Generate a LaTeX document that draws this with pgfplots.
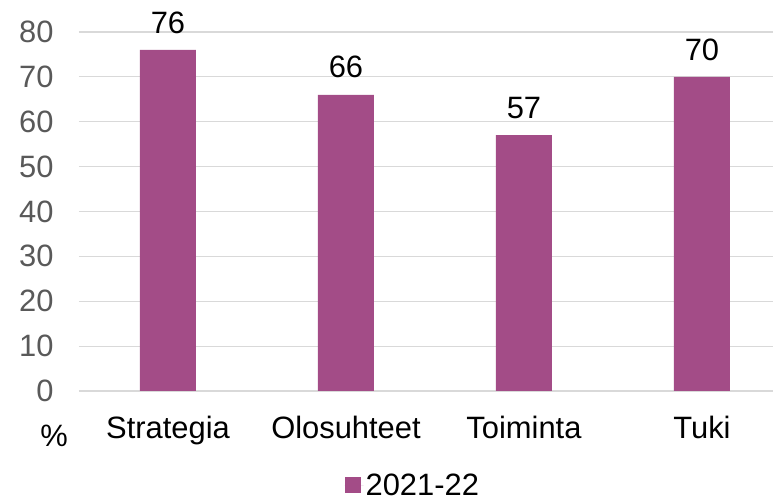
\documentclass[border=0pt]{standalone}
\usepackage{fontspec}
\setmainfont{Liberation Sans}
\usepackage{pgfplots}
\pgfplotsset{compat=1.18}
\definecolor{barc}{HTML}{A34C87}
\definecolor{gridc}{HTML}{D9D9D9}
\definecolor{tickc}{HTML}{595959}
\begin{document}
\begin{tikzpicture}
\begin{axis}[
  name=ax,
  scale only axis,
  width=694bp, height=359bp,
  ymin=0, ymax=80,
  xmin=-0.5, xmax=3.399,
  ytick={0,10,...,80},
  xtick=data,
  xticklabels={Strategia,Olosuhteet,Toiminta,Tuki},
  axis line style={draw=none},
  major tick length=0pt,
  ymajorgrids,
  grid style={gridc, line width=1.2bp},
  /pgf/number format/assume math mode=true,
  yticklabel style={font=\fontsize{31}{35}\selectfont, text=tickc, xshift=-22bp},
  xticklabel style={font=\fontsize{31}{35}\selectfont, text=black, yshift=-22bp},
  clip=false,
  nodes near coords,
  every node near coord/.append style={font=\fontsize{31}{35}\selectfont, text=black, yshift=13bp},
  legend style={at={(0.481,-0.262)}, anchor=center, draw=none, fill=none, font=\fontsize{31}{35}\selectfont, inner sep=0pt},
  legend image code/.code={\fill[barc] (0bp,-8bp) rectangle (16bp,8bp); \path (0bp,0bp) -- (19bp,0bp);},
]
\addplot[ybar, bar width=56bp, fill=barc, draw=none] coordinates {(0,76) (1,66) (2,57) (3,70)};
\addlegendentry{2021-22}
\end{axis}
\node[font=\fontsize{31}{35}\selectfont, anchor=center] at ([shift={(-25bp,-45bp)}]ax.south west) {\%};
\pgfresetboundingbox
\path[use as bounding box] ([shift={(-79bp,-109bp)}]ax.south west) rectangle ([shift={(0bp,32bp)}]ax.north east);
\end{tikzpicture}
\end{document}
